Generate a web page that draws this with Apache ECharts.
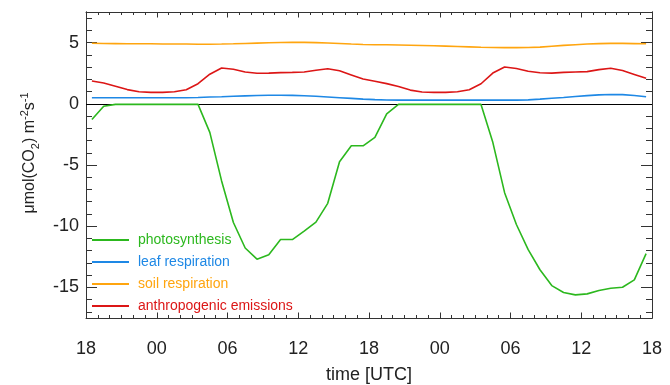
<!DOCTYPE html>
<html>
<head>
<meta charset="utf-8">
<script src="https://cdn.jsdelivr.net/npm/echarts@6/dist/echarts.min.js"></script>
<style>
  html, body { margin: 0; padding: 0; background: #fff; }
  #chart { width: 670px; height: 385px; }
</style>
</head>
<body>
<div id="chart"></div>
<script>
// Hours since 18 UTC on the first day (hourly means, centred on the half hour)
const hours = [0.5, 1.5, 2.5, 3.5, 4.5, 5.5, 6.5, 7.5, 8.5, 9.5, 10.5, 11.5,
  12.5, 13.5, 14.5, 15.5, 16.5, 17.5, 18.5, 19.5, 20.5, 21.5, 22.5, 23.5,
  24.5, 25.5, 26.5, 27.5, 28.5, 29.5, 30.5, 31.5, 32.5, 33.5, 34.5, 35.5,
  36.5, 37.5, 38.5, 39.5, 40.5, 41.5, 42.5, 43.5, 44.5, 45.5, 46.5, 47.5];

// CO2 fluxes in µmol m-2 s-1
const photosynthesis = [-1.29, -0.2, -0.05, -0.05, -0.05, -0.05, -0.05, -0.05, -0.05, -0.05,
  -2.33, -6.3, -9.7, -11.78, -12.69, -12.33, -11.09, -11.09, -10.4, -9.67, -8.13, -4.74,
  -3.43, -3.43, -2.74, -0.82, -0.05, -0.05, -0.05, -0.05, -0.05, -0.05, -0.05, -0.05,
  -3.15, -7.26, -9.86, -11.92, -13.56, -14.85, -15.42, -15.61, -15.53, -15.26, -15.07,
  -14.99, -14.38, -12.24];
const leafRespiration = [0.5, 0.5, 0.5, 0.5, 0.5, 0.5, 0.5, 0.5, 0.5, 0.52, 0.55, 0.58,
  0.62, 0.65, 0.68, 0.7, 0.7, 0.69, 0.66, 0.62, 0.56, 0.5, 0.44, 0.38, 0.34, 0.31,
  0.3, 0.3, 0.3, 0.3, 0.3, 0.3, 0.3, 0.3, 0.3, 0.3, 0.3, 0.32, 0.38, 0.45, 0.52, 0.6,
  0.67, 0.73, 0.76, 0.75, 0.68, 0.58];
const soilRespiration = [4.95, 4.93, 4.92, 4.91, 4.9, 4.9, 4.89, 4.88, 4.88, 4.87, 4.87,
  4.88, 4.9, 4.93, 4.96, 4.99, 5.01, 5.02, 5.02, 5.0, 4.97, 4.93, 4.88, 4.85, 4.83,
  4.82, 4.8, 4.78, 4.76, 4.74, 4.71, 4.68, 4.65, 4.62, 4.6, 4.59, 4.59, 4.6, 4.63,
  4.7, 4.77, 4.83, 4.88, 4.92, 4.94, 4.94, 4.92, 4.9];
const anthropogenic = [1.86, 1.7, 1.44, 1.16, 0.99, 0.93, 0.93, 0.98, 1.15, 1.64, 2.42,
  2.93, 2.82, 2.6, 2.49, 2.51, 2.55, 2.57, 2.6, 2.74, 2.86, 2.7, 2.36, 2.02, 1.84,
  1.65, 1.41, 1.12, 0.97, 0.93, 0.93, 0.99, 1.15, 1.64, 2.51, 3.01, 2.88, 2.66, 2.54,
  2.51, 2.57, 2.6, 2.63, 2.79, 2.9, 2.72, 2.4, 2.08];

const seriesNames = ['photosynthesis', 'leaf respiration', 'soil respiration', 'anthropogenic emissions'];
const seriesColors = ['#2cb81e', '#1e88e5', '#ffa50f', '#dc1616'];

// Axis ticks
const yLabelValues = [-15, -10, -5, 0, 5];
const yMinorValues = [-17, -16, -14, -13, -12, -11, -9, -8, -7, -6, -4, -3, -2, -1, 1, 2, 3, 4, 6, 7];
const X_START_HOUR = 18;

const FONT = '"Liberation Sans", Arial, Helvetica, sans-serif';
const frameColor = '#333';

const allSeries = [photosynthesis, leafRespiration, soilRespiration, anthropogenic];

function pair(values) {
  return hours.map((h, i) => [h, values[i]]);
}

const chart = echarts.init(document.getElementById('chart'), null, { renderer: 'canvas' });

function yAxisDef(position, values, len, showLabel) {
  return {
    type: 'value', position: position, min: -17.5, max: 7.5,
    axisLine: { show: true, onZero: false, lineStyle: { color: frameColor, width: 1 } },
    axisTick: { show: true, inside: true, length: len, customValues: values,
      lineStyle: { color: frameColor, width: 1 } },
    axisLabel: { show: showLabel, customValues: values, margin: 7, color: '#222',
      fontSize: 18, fontFamily: FONT },
    splitLine: { show: false }
  };
}

function xAxisDef(position, showLabel) {
  return {
    type: 'value', position: position, min: 0, max: 48, interval: 6,
    axisLine: { show: true, onZero: false, lineStyle: { color: frameColor, width: 1 } },
    axisTick: { show: true, inside: true, length: 5.5, lineStyle: { color: frameColor, width: 1 } },
    minorTick: { show: true, splitNumber: 6, length: 3, lineStyle: { color: frameColor, width: 1 } },
    axisLabel: {
      show: showLabel, margin: 22, color: '#222', fontSize: 18, fontFamily: FONT,
      formatter: v => String((X_START_HOUR + v) % 24).padStart(2, '0')
    },
    splitLine: { show: false },
    minorSplitLine: { show: false },
    name: showLabel ? 'time [UTC]' : '',
    nameLocation: 'middle',
    nameGap: 48,
    nameTextStyle: { color: '#222', fontSize: 18, fontFamily: FONT }
  };
}

const series = allSeries.map((vals, i) => ({
  name: seriesNames[i],
  type: 'line',
  data: pair(vals),
  xAxisIndex: 0,
  yAxisIndex: 0,
  showSymbol: false,
  symbol: 'none',
  smooth: false,
  lineStyle: { color: seriesColors[i], width: 1.6 },
  itemStyle: { color: seriesColors[i] },
  z: 3 + (3 - i),
  silent: true
}));

// Zero reference line
series[0].markLine = {
  silent: true,
  symbol: 'none',
  label: { show: false },
  lineStyle: { color: '#000', width: 1, type: 'solid' },
  data: [{ yAxis: 0 }],
  z: 2
};

chart.setOption({
  animation: false,
  backgroundColor: '#fff',
  grid: { left: 86, right: 18, top: 12, bottom: 67, containLabel: false, outerBoundsMode: 'none' },
  xAxis: [xAxisDef('bottom', true), xAxisDef('top', false)],
  yAxis: [
    yAxisDef('left', yLabelValues, 11, true),
    yAxisDef('left', yMinorValues, 6, false),
    yAxisDef('right', yLabelValues, 11, false),
    yAxisDef('right', yMinorValues, 6, false)
  ],
  legend: {
    orient: 'vertical',
    left: 92, top: 232,
    padding: 0,
    itemWidth: 37, itemHeight: 2, itemGap: 6,
    icon: 'rect',
    selectedMode: false,
    data: seriesNames.map((n, i) => ({
      name: n,
      itemStyle: { color: seriesColors[i] },
      textStyle: { color: seriesColors[i] }
    })),
    textStyle: { fontSize: 14, fontFamily: FONT, lineHeight: 16, padding: [0, 0, 0, 4] }
  },
  graphic: [{
    type: 'text',
    x: 30, y: 153,
    rotation: Math.PI / 2,
    silent: true,
    style: {
      text: 'μmol(CO{sub|2}) m{sup|-2}s{sup|-1}',
      fontSize: 16, fontFamily: FONT, fill: '#222',
      align: 'center', verticalAlign: 'middle',
      lineHeight: 22,
      rich: {
        sub: { fontSize: 11, fontFamily: FONT, fill: '#222', verticalAlign: 'bottom', lineHeight: 12 },
        sup: { fontSize: 11, fontFamily: FONT, fill: '#222', verticalAlign: 'top', lineHeight: 12 }
      }
    }
  }],
  series: series
});
</script>
</body>
</html>
